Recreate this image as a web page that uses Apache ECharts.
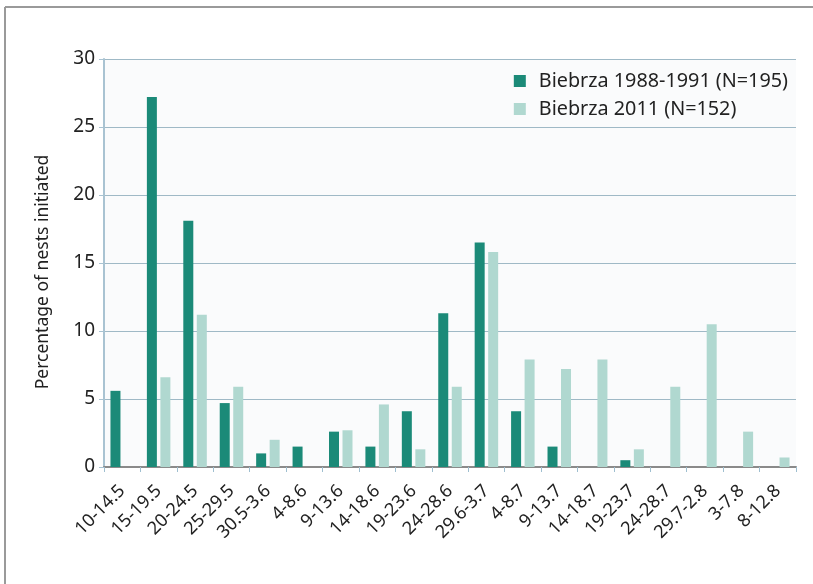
<!DOCTYPE html>
<html>
<head>
<meta charset="utf-8">
<script src="https://cdn.jsdelivr.net/npm/echarts@6/dist/echarts.min.js"></script>
<style>html,body{margin:0;padding:0;background:#fff}#c{width:813px;height:584px}</style>
</head>
<body>
<div id="c"></div>
<script>
const categories = ['10-14.5','15-19.5','20-24.5','25-29.5','30.5-3.6','4-8.6','9-13.6','14-18.6','19-23.6','24-28.6','29.6-3.7','4-8.7','9-13.7','14-18.7','19-23.7','24-28.7','29.7-2.8','3-7.8','8-12.8'];
const series1988 = [5.6, 27.2, 18.1, 4.7, 1.0, 1.5, 2.6, 1.5, 4.1, 11.3, 16.5, 4.1, 1.5, 0, 0.5, 0, 0, 0, 0];
const series2011 = [0, 6.6, 11.2, 5.9, 2.0, 0, 2.7, 4.6, 1.3, 5.9, 15.8, 7.9, 7.2, 7.9, 1.3, 5.9, 10.5, 2.6, 0.7];
const seriesNames = ['Biebrza 1988-1991 (N=195)', 'Biebrza 2011 (N=152)'];
const yTicks = {min: 0, max: 30, interval: 5};

const FONT = 'Noto Sans';
const chart = echarts.init(document.getElementById('c'));
chart.setOption({
  animation: false,
  textStyle: {fontFamily: FONT},
  graphic: [
    {type: 'line', shape: {x1: 5, y1: 7, x2: 813, y2: 7}, style: {stroke: '#9a9a9a', lineWidth: 2}},
    {type: 'line', shape: {x1: 5, y1: 7, x2: 5, y2: 584}, style: {stroke: '#9a9a9a', lineWidth: 2}}
  ],
  grid: {left: 104, right: 17, top: 59, bottom: 117, show: true, backgroundColor: '#fafbfc', borderWidth: 0},
  legend: {
    orient: 'vertical', right: 20, top: 66,
    itemWidth: 12, itemHeight: 12, itemGap: 8,
    icon: 'rect',
    textStyle: {fontSize: 19.8, color: '#222', fontFamily: FONT, padding: [0, 0, 0, 8]},
    data: seriesNames
  },
  xAxis: {
    type: 'category', data: categories,
    axisLine: {lineStyle: {color: '#8a8a8a', width: 2}},
    axisTick: {show: true, length: 5, lineStyle: {color: '#9fbfd0'}},
    axisLabel: {rotate: 45, fontSize: 18, color: '#222', margin: 21, interval: 0}
  },
  yAxis: {
    type: 'value', min: yTicks.min, max: yTicks.max, interval: yTicks.interval,
    name: 'Percentage of nests initiated', nameLocation: 'middle', nameGap: 52,
    nameTextStyle: {fontSize: 17.5, color: '#222', padding: [0, 18, 0, 0]},
    axisLine: {show: true, lineStyle: {color: '#a9c3d2', width: 2}},
    axisTick: {show: true, length: 5, lineStyle: {color: '#a9c3d2'}},
    axisLabel: {fontSize: 19, color: '#222', margin: 9},
    splitLine: {lineStyle: {color: '#9fb9c6', width: 1.2}}
  },
  series: [
    {name: seriesNames[0], type: 'bar', data: series1988, barWidth: 10, barGap: '35%', itemStyle: {color: '#1b8a78'}},
    {name: seriesNames[1], type: 'bar', data: series2011, barWidth: 10, itemStyle: {color: '#b0d8d0'}}
  ]
});
</script>
</body>
</html>
